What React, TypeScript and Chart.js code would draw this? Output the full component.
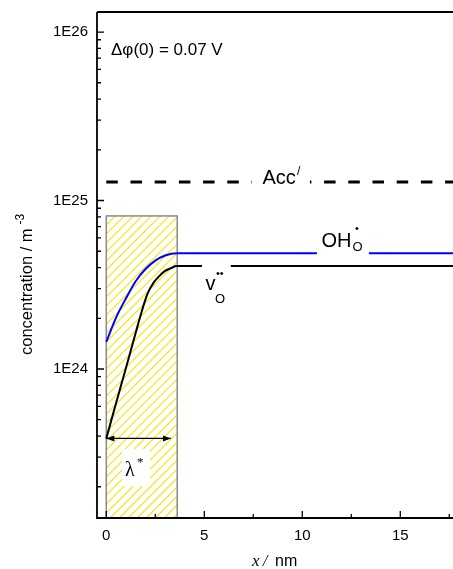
import React, { useEffect, useRef } from 'react';
import { Chart, registerables } from 'chart.js';

Chart.register(...registerables);

const SANS = '"Liberation Sans", Arial, sans-serif';
const SERIF = '"Liberation Serif", "Times New Roman", serif';

// axis ranges
const xMin = -0.474;
const xMax = 17.69;
const yMin = 1.305e23;
const yMax = 1.315e26;

// ticks
const xTickValues = [0, 5, 10, 15];
const xTickLabels = ['0', '5', '10', '15'];
const xMinorTicks = [2.5, 7.5, 12.5, 17.5];
const yTickValues = [1e24, 1e25, 1e26];
const yTickLabels = ['1E24', '1E25', '1E26'];
const yMinorTicks = [
  2e23, 3e23, 4e23, 5e23, 6e23, 7e23, 8e23, 9e23,
  2e24, 3e24, 4e24, 5e24, 6e24, 7e24, 8e24, 9e24,
  2e25, 3e25, 4e25, 5e25, 6e25, 7e25, 8e25, 9e25,
];

// OH_O (blue)
const ohX = [0, 0.5, 1.0, 1.5, 2.0, 2.5, 3.0, 3.6, 18];
const ohY = [1.45e24, 2.02e24, 2.62e24, 3.32e24, 3.92e24, 4.4e24, 4.72e24, 4.87e24, 4.87e24];
// v_O (black)
const vX = [0, 0.5, 1.0, 1.5, 1.8, 2.1, 2.4, 2.7, 3.0, 3.3, 3.6, 18];
const vY = [3.87e23, 6.28e23, 1.01e24, 1.64e24, 2.18e24, 2.79e24, 3.24e24, 3.56e24, 3.82e24, 3.97e24, 4.08e24, 4.08e24];
// Acc' (dashed)
const accX = [0, 18];
const accY = [1.288e25, 1.288e25];

// space-charge region and lambda* arrow
const regionX = [0, 3.62];
const regionTop = 8.1e24;
const arrowX = [0, 3.3];
const arrowY = 3.87e23;

const pts = (xs: number[], ys: number[]) => xs.map((x, i) => ({ x, y: ys[i] }));

const decor = {
  id: 'decor',
  beforeDatasetsDraw(chart: any) {
    const { ctx, chartArea: ca, scales } = chart;
    const xs = scales.x, ys = scales.y;
    const x0 = xs.getPixelForValue(regionX[0]);
    const x1 = xs.getPixelForValue(regionX[1]);
    const yt = ys.getPixelForValue(regionTop);
    const yb = ca.bottom;
    const h = yb - yt;
    ctx.save();
    ctx.beginPath();
    ctx.rect(x0, yt, x1 - x0, h);
    ctx.clip();
    ctx.strokeStyle = '#f2e400';
    ctx.lineWidth = 1.1;
    ctx.beginPath();
    for (let k = -h; k < x1 - x0 + 9; k += 9) {
      ctx.moveTo(x0 + k, yb);
      ctx.lineTo(x0 + k + h, yt);
    }
    ctx.stroke();
    ctx.restore();
    // white box behind lambda*
    ctx.save();
    ctx.fillStyle = '#ffffff';
    ctx.fillRect(122, 449, 28, 37);
    ctx.strokeStyle = '#8a8a8a';
    ctx.lineWidth = 1.5;
    ctx.strokeRect(x0, yt, x1 - x0, h);
    ctx.fillStyle = '#000';
    ctx.textBaseline = 'alphabetic';
    ctx.textAlign = 'left';
    ctx.font = `20px ${SERIF}`;
    ctx.fillText('λ', 125, 476);
    ctx.font = `13px ${SERIF}`;
    ctx.fillText('*', 137, 466);
    ctx.restore();
  },
  afterDatasetsDraw(chart: any) {
    const { ctx, scales } = chart;
    const xs = scales.x, ys = scales.y;
    const px = (v: number) => xs.getPixelForValue(v);
    const py = (v: number) => ys.getPixelForValue(v);
    ctx.save();
    ctx.fillStyle = '#fff';
    // white boxes behind labels
    const accPy = py(accY[0]);
    ctx.fillRect(px(7.43), accPy - 18, px(10.39) - px(7.43), 24);
    const ohPy = py(ohY[ohY.length - 1]);
    ctx.fillRect(px(10.75), ohPy - 26, px(13.4) - px(10.75), 29);
    const vPy = py(vY[vY.length - 1]);
    ctx.fillRect(px(4.88), vPy - 7, px(6.35) - px(4.88), 45);

    ctx.fillStyle = '#000';
    ctx.textAlign = 'left';
    ctx.textBaseline = 'alphabetic';
    // Acc'
    ctx.font = `20px ${SANS}`;
    ctx.fillText('Acc', 262.5, accPy + 2);
    ctx.font = `12px ${SANS}`;
    ctx.fillText('/', 297, accPy - 7);
    // OH_O^.
    ctx.font = `20px ${SANS}`;
    ctx.fillText('OH', 321.5, ohPy - 6);
    ctx.font = `13px ${SANS}`;
    ctx.fillText('O', 352.5, ohPy - 2);
    ctx.font = `11px ${SANS}`;
    ctx.fillText('•', 355, ohPy - 21);
    // v_O^..
    ctx.font = `20px ${SANS}`;
    ctx.fillText('v', 205.5, vPy + 24);
    ctx.font = `13px ${SANS}`;
    ctx.fillText('O', 215, vPy + 37);
    ctx.font = `11px ${SANS}`;
    ctx.fillText('••', 216, vPy + 11);

    // delta phi
    ctx.font = `17px ${SANS}`;
    ctx.fillText('Δφ(0) = 0.07 V', 111, 55);

    // lambda* arrow
    const ay = py(arrowY);
    const ax0 = px(arrowX[0]);
    const ax1 = px(arrowX[1]);
    ctx.strokeStyle = '#000';
    ctx.lineWidth = 1.2;
    ctx.beginPath();
    ctx.moveTo(ax0, ay);
    ctx.lineTo(ax1, ay);
    ctx.stroke();
    ctx.beginPath();
    ctx.moveTo(ax1, ay);
    ctx.lineTo(ax1 - 8, ay - 3);
    ctx.lineTo(ax1 - 8, ay + 3);
    ctx.closePath();
    ctx.fill();
    ctx.beginPath();
    ctx.moveTo(ax0, ay);
    ctx.lineTo(ax0 + 8, ay - 3);
    ctx.lineTo(ax0 + 8, ay + 3);
    ctx.closePath();
    ctx.fill();
    ctx.restore();
  },
  afterDraw(chart: any) {
    const { ctx, chartArea: ca, scales } = chart;
    const xs = scales.x, ys = scales.y;
    ctx.save();
    ctx.strokeStyle = '#000';
    ctx.lineWidth = 1.8;
    ctx.beginPath();
    ctx.moveTo(ca.left, ca.top);
    ctx.lineTo(ca.left, ca.bottom);
    ctx.lineTo(ca.right, ca.bottom);
    ctx.moveTo(ca.left, ca.top);
    ctx.lineTo(ca.right, ca.top);
    ctx.stroke();
    ctx.lineWidth = 1.3;
    ctx.beginPath();
    yTickValues.forEach((v) => {
      const y = ys.getPixelForValue(v);
      ctx.moveTo(ca.left, y);
      ctx.lineTo(ca.left + 7, y);
    });
    yMinorTicks.forEach((v) => {
      const y = ys.getPixelForValue(v);
      ctx.moveTo(ca.left, y);
      ctx.lineTo(ca.left + 4, y);
    });
    xTickValues.forEach((v) => {
      const x = xs.getPixelForValue(v);
      ctx.moveTo(x, ca.bottom);
      ctx.lineTo(x, ca.bottom - 7);
    });
    xMinorTicks.forEach((v) => {
      const x = xs.getPixelForValue(v);
      ctx.moveTo(x, ca.bottom);
      ctx.lineTo(x, ca.bottom - 4);
    });
    ctx.stroke();

    // axis titles
    ctx.fillStyle = '#000';
    ctx.textAlign = 'left';
    ctx.textBaseline = 'alphabetic';
    ctx.translate(32, 355);
    ctx.rotate(-Math.PI / 2);
    ctx.font = `16.5px ${SANS}`;
    const main = 'concentration / m';
    ctx.fillText(main, 0, 0);
    const w = ctx.measureText(main).width;
    ctx.font = `12px ${SANS}`;
    ctx.fillText('-3', w + 4, -8);
    ctx.setTransform(1, 0, 0, 1, 0, 0);

    ctx.font = `italic 17px ${SERIF}`;
    ctx.fillText('x', 252, 566);
    ctx.font = `italic 16px ${SERIF}`;
    ctx.fillText('/', 263, 566);
    ctx.font = `16px ${SANS}`;
    ctx.fillText('nm', 275, 566);
    ctx.restore();
  },
};

export default function App() {
  const ref = useRef<HTMLCanvasElement>(null);
  useEffect(() => {
    const chart = new Chart(ref.current as HTMLCanvasElement, {
      type: 'line',
      data: {
        datasets: [
          {
            data: pts(accX, accY),
            borderColor: '#000',
            borderWidth: 3,
            borderDash: [11.5, 12.7],
            pointRadius: 0,
            tension: 0,
          },
          {
            data: pts(ohX, ohY),
            borderColor: '#0000ff',
            borderWidth: 2,
            pointRadius: 0,
            cubicInterpolationMode: 'monotone',
          },
          {
            data: pts(vX, vY),
            borderColor: '#000',
            borderWidth: 2,
            pointRadius: 0,
            cubicInterpolationMode: 'monotone',
          },
        ],
      },
      options: {
        responsive: false,
        animation: false,
        layout: { padding: { top: 12, left: 0, right: 0, bottom: 0 } },
        plugins: { legend: { display: false }, tooltip: { enabled: false } },
        scales: {
          x: {
            type: 'linear',
            min: xMin,
            max: xMax,
            grid: { display: false, drawTicks: true, tickLength: 9 },
            border: { display: false },
            ticks: {
              padding: 0,
              color: '#000',
              font: { family: SANS, size: 15 },
              autoSkip: false,
              maxRotation: 0,
              callback: (_v: any, i: number) => xTickLabels[i],
            },
            afterBuildTicks: (s: any) => {
              s.ticks = xTickValues.map((v) => ({ value: v }));
            },
            afterFit: (s: any) => {
              s.height = 51;
            },
          },
          y: {
            type: 'logarithmic',
            min: yMin,
            max: yMax,
            grid: { display: false, drawTicks: true, tickLength: 9 },
            border: { display: false },
            ticks: {
              padding: 0,
              color: '#000',
              font: { family: SANS, size: 15 },
              autoSkip: false,
              callback: (_v: any, i: number) => yTickLabels[i],
            },
            afterBuildTicks: (s: any) => {
              s.ticks = yTickValues.map((v) => ({ value: v }));
            },
            afterFit: (s: any) => {
              s.width = 97;
            },
          },
        },
      },
      plugins: [decor],
    } as any);
    return () => chart.destroy();
  }, []);
  return (
    <div style={{ position: 'fixed', left: 0, top: 0, width: 453, height: 569, background: '#fff' }}>
      <canvas ref={ref} width={453} height={569} style={{ display: 'block', width: 453, height: 569 }} />
    </div>
  );
}
